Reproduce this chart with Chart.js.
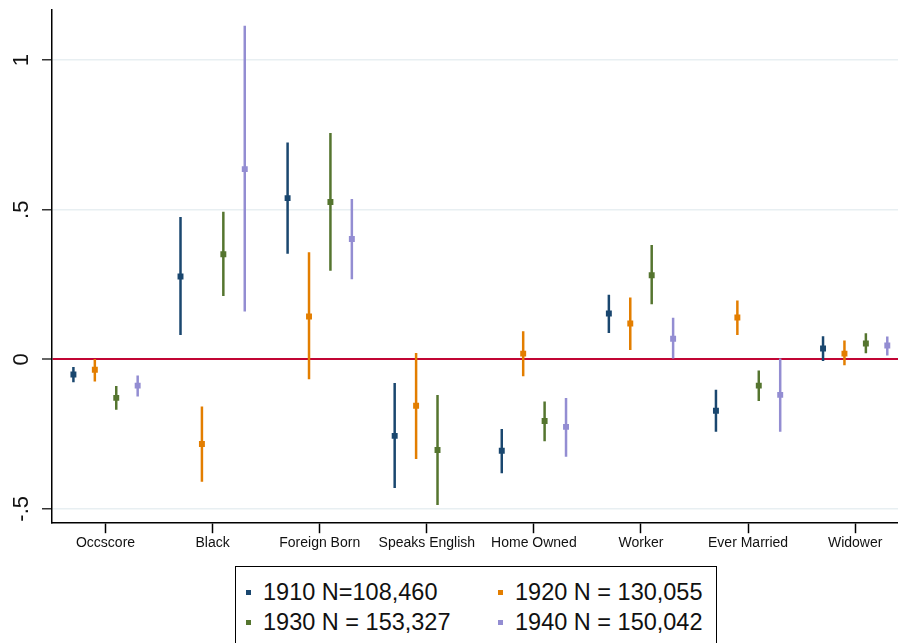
<!DOCTYPE html>
<html>
<head>
<meta charset="utf-8">
<script src="https://cdn.jsdelivr.net/npm/chart.js@4.4.1/dist/chart.umd.min.js"></script>
<style>
  body { margin: 0; background: #fff; font-family: "Liberation Sans", Arial, sans-serif; }
  #wrap { position: relative; width: 898px; height: 643px; overflow: hidden; }
  #legend {
    position: absolute; left: 235px; top: 566px; width: 482px; height: 90px;
    border: 1px solid #000; box-sizing: border-box;
  }
  .item { position: absolute; font-size: 23.5px; color: #111; white-space: nowrap; line-height: 28px; }
  .item span.sw { position: absolute; width: 5px; height: 5px; left: -17px; top: 12px; }
</style>
</head>
<body>
<div id="wrap">
  <canvas id="coefChart" width="898" height="560"></canvas>
  <div id="legend"></div>
</div>
<script>
// ===== DATA =====
const categories = ["Occscore", "Black", "Foreign Born", "Speaks English", "Home Owned", "Worker", "Ever Married", "Widower"];
const yTickValues = [-0.5, 0, 0.5, 1];
const yTickLabels = ["-.5", "0", ".5", "1"];

const seriesLabels = ["1910 N=108,460", "1920 N = 130,055", "1930 N = 153,327", "1940 N = 150,042"];
const seriesColors = ["#1a476f", "#e37e00", "#55752f", "#938dd2"];

// point estimates and confidence bounds per category
const est1910 = [-0.051, 0.277, 0.539, -0.256, -0.306, 0.153, -0.172, 0.036];
const lo1910  = [-0.077, 0.081, 0.353, -0.430, -0.381, 0.088, -0.242, -0.006];
const hi1910  = [-0.026, 0.476, 0.725, -0.079, -0.233, 0.216, -0.102, 0.077];

const est1920 = [-0.035, -0.283, 0.143, -0.155, 0.019, 0.120, 0.140, 0.019];
const lo1920  = [-0.074, -0.409, -0.067, -0.333, -0.057, 0.031, 0.081, -0.020];
const hi1920  = [0.001, -0.158, 0.358, 0.021, 0.094, 0.207, 0.197, 0.063];

const est1930 = [-0.129, 0.351, 0.526, -0.303, -0.206, 0.281, -0.088, 0.053];
const lo1930  = [-0.169, 0.212, 0.296, -0.487, -0.274, 0.184, -0.139, 0.020];
const hi1930  = [-0.089, 0.493, 0.757, -0.119, -0.141, 0.382, -0.037, 0.087];

const est1940 = [-0.088, 0.636, 0.402, null, -0.226, 0.069, -0.119, 0.046];
const lo1940  = [-0.124, 0.160, 0.268, null, -0.326, 0.003, -0.242, 0.013];
const hi1940  = [-0.054, 1.115, 0.536, null, -0.129, 0.139, 0.003, 0.076];

const estimates = [est1910, est1920, est1930, est1940];
const lows = [lo1910, lo1920, lo1930, lo1940];
const highs = [hi1910, hi1920, hi1930, hi1940];

// horizontal dodge of each series around its category
const dodge = [-0.3, -0.1, 0.1, 0.3];

// ===== DATASETS =====
const datasets = [];
seriesLabels.forEach((label, s) => {
    // confidence interval lines, broken by nulls
    const ci = [];
    categories.forEach((c, i) => {
        if (estimates[s][i] === null) return;
        const x = i + dodge[s];
        ci.push({ x: x, y: lows[s][i] }, { x: x, y: highs[s][i] }, { x: x, y: null });
    });
    datasets.push({
        label: label + " CI",
        data: ci,
        showLine: true,
        spanGaps: false,
        borderColor: seriesColors[s],
        borderWidth: 2.5,
        pointRadius: 0
    });

    // point estimates
    const pts = [];
    categories.forEach((c, i) => {
        if (estimates[s][i] === null) return;
        pts.push({ x: i + dodge[s], y: estimates[s][i] });
    });
    datasets.push({
        label: label,
        data: pts,
        pointStyle: "rect",
        pointRadius: 4.2,
        pointBorderWidth: 0,
        backgroundColor: seriesColors[s],
        borderColor: seriesColors[s]
    });
});

const ctx = document.getElementById("coefChart").getContext("2d");
const coefChart = new Chart(ctx, {
    type: "scatter",
    data: { datasets: datasets },
    options: {
        responsive: false,
        animation: false,
        layout: { autoPadding: false, padding: { top: 10, right: 0, bottom: 6, left: 0 } },
        plugins: {
            legend: { display: false },
            tooltip: { enabled: false }
        },
        scales: {
            x: {
                type: "linear",
                min: -0.5,
                max: 7.4,
                afterBuildTicks: s => { s.ticks = categories.map((c, i) => ({ value: i })); },
                afterFit: s => { s.paddingLeft = 0; s.paddingRight = 0; },
                ticks: {
                    callback: v => categories[v],
                    color: "#111",
                    font: { family: "Liberation Sans", size: 14 },
                    padding: 2,
                    maxRotation: 0,
                    autoSkip: false
                },
                grid: {
                    drawOnChartArea: false,
                    tickLength: 10,
                    tickColor: "#000",
                    tickWidth: 1.5
                },
                border: { color: "#000", width: 1.5 }
            },
            y: {
                min: -0.548,
                max: 1.168,
                afterBuildTicks: s => { s.ticks = yTickValues.map(v => ({ value: v })); },
                afterFit: s => { s.width = 52; s.paddingTop = 0; s.paddingBottom = 0; },
                ticks: {
                    callback: v => yTickLabels[yTickValues.indexOf(v)],
                    color: "#111",
                    font: { family: "Liberation Sans", size: 22 },
                    minRotation: 90,
                    maxRotation: 90,
                    crossAlign: "center",
                    padding: 7
                },
                grid: {
                    color: c => (c.tick && c.tick.value === 0) ? "#c10534" : "#e8eff2",
                    lineWidth: c => (c.tick && c.tick.value === 0) ? 2 : 1.5,
                    tickLength: 10,
                    tickColor: "#333",
                    tickWidth: 1.5
                },
                border: { color: "#000", width: 1.5 }
            }
        }
    }
});

// ===== LEGEND (two columns) =====
const legendEl = document.getElementById("legend");
const colX = [27, 279];
const rowY = [11, 41];
seriesLabels.forEach((label, s) => {
    const item = document.createElement("div");
    item.className = "item";
    item.style.left = colX[s % 2] + "px";
    item.style.top = rowY[Math.floor(s / 2)] + "px";
    item.innerHTML = `<span class="sw" style="background:${seriesColors[s]}"></span>${label}`;
    legendEl.appendChild(item);
});
</script>
</body>
</html>
